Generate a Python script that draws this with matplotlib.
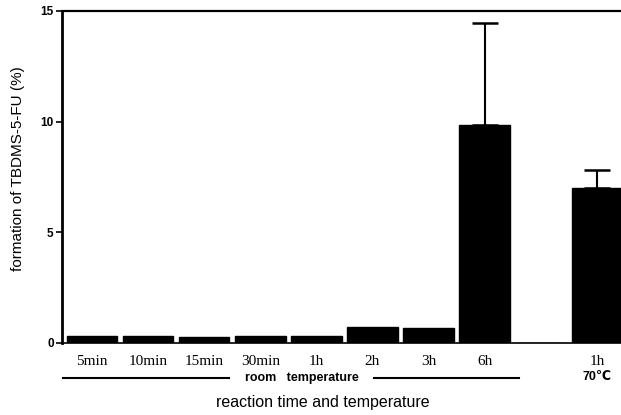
import numpy as np
import matplotlib
matplotlib.use('Agg')
import matplotlib.pyplot as plt

# Data
labels = ['5min', '10min', '15min', '30min', '1h', '2h', '3h', '6h', '', '1h']
values = [0.33, 0.31, 0.28, 0.32, 0.33, 0.72, 0.66, 9.85, 0.0, 7.0]
errors = [0, 0, 0, 0, 0, 0, 0, 4.62, 0, 0.82]
y_ticks = [0, 5, 10, 15]

x = np.arange(len(values))

fig = plt.figure(figsize=(6.21, 4.15), dpi=100)
ax = fig.add_axes([0.0998, 0.1735, 0.9002, 0.8])

ax.bar(x, values, width=0.9, color='black', edgecolor='black')

# error bars only where there is a visible error
mask = np.array(errors) > 0
ax.errorbar(x[mask], np.array(values)[mask], yerr=[np.zeros(mask.sum()), np.array(errors)[mask]],
            fmt='none', ecolor='black', elinewidth=1.5, capsize=9.5, capthick=1.8)

ax.set_xlim(-0.535, 9.43)
ax.set_ylim(0, 15)
ax.set_yticks(y_ticks)
ax.set_yticklabels([str(t) for t in y_ticks], fontsize=8.5, family='Liberation Sans', fontweight='bold')
ax.tick_params(axis='y', direction='out', length=4, width=1.2, pad=2)

ax.set_xticks(x)
ax.set_xticklabels(labels, fontsize=11, family='Liberation Serif')
ax.tick_params(axis='x', length=0, pad=9)

ax.spines['right'].set_visible(False)
ax.spines['left'].set_linewidth(2)
ax.spines['top'].set_linewidth(1.6)
ax.spines['bottom'].set_linewidth(1.2)

# "room temperature" bracket under the room-temperature bars
tr = ax.get_xaxis_transform()
ax.plot([-0.52, 2.45], [-0.105, -0.105], color='black', lw=1.5, transform=tr, clip_on=False)
ax.plot([5.03, 7.61], [-0.105, -0.105], color='black', lw=1.5, transform=tr, clip_on=False)
ax.text(3.74, -0.105, 'room   temperature', transform=tr, ha='center', va='center',
        fontsize=9, fontweight='bold', family='Liberation Sans')
ax.text(x[-1], -0.103, '70\u2103', transform=tr, ha='center', va='center',
        fontsize=9, fontweight='bold', family=['Liberation Sans', 'DejaVu Sans'])

ax.set_xlabel('reaction time and temperature', fontsize=11.5, family='Liberation Sans')
ax.xaxis.set_label_coords(0.467, -0.158)
ax.set_ylabel('formation of TBDMS-5-FU (%)', fontsize=11, family='Liberation Sans')
ax.yaxis.set_label_coords(-0.066, 0.524)

fig.savefig('out.png', dpi=100)
